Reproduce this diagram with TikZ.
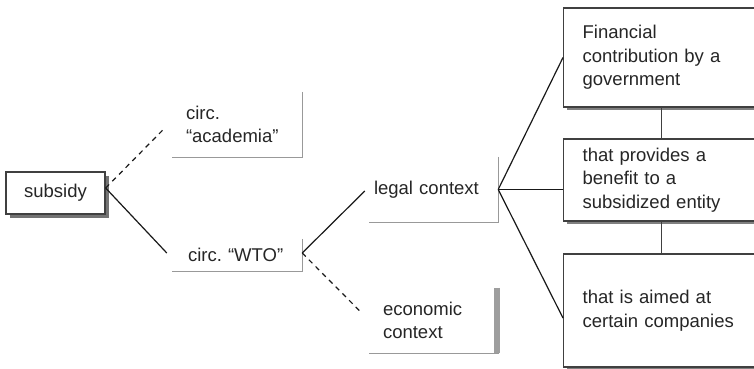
\documentclass[tikz,border=0pt]{standalone}
\usepackage{fontspec}
\setmainfont{Liberation Sans}
\usetikzlibrary{shadows}
\frenchspacing
\begin{document}
\begin{tikzpicture}[x=1pt,y=-1pt,
  every node/.style={font=\fontsize{18.5}{23.5}\selectfont, text=black!85},
  conn/.style={draw=black!90, line width=1.2pt},
  dashconn/.style={conn, dash pattern=on 5pt off 4.5pt},
  bracketline/.style={draw=black!40, line width=1.3pt},
  cond/.style={draw=black!75, line width=1.3pt, fill=white, align=left,
    anchor=west, inner xsep=19pt, inner ysep=0pt, text width=158pt,
    minimum width=196pt,
    drop shadow={shadow xshift=3pt, shadow yshift=-3pt, fill=black!50, opacity=1}},
  term/.style={draw=black!75, line width=1.3pt, fill=white,
    minimum width=99pt, minimum height=42pt, inner sep=0pt,
    drop shadow={shadow xshift=4pt, shadow yshift=-4pt, fill=black!55, opacity=1}},
  circ/.style={align=left, inner ysep=0pt, minimum width=130pt}]

  \clip (0,0) rectangle (754,368);
  \fill[white] (0,0) rectangle (754,368);

  % root term
  \node[term] (subsidy) at (55.5,193) {subsidy};

  % circumstances and contexts, each closed by a right and bottom rule
  \node[circ, inner xsep=14pt, text width=102pt, minimum height=65pt] (acad) at (237,124.5)
    {circ.\\“academia”};
  \node[circ, inner xsep=16pt, text width=98pt, minimum height=32pt] (wto) at (237,255)
    {circ. “WTO”};
  \node[circ, inner xsep=5pt, text width=119pt, minimum height=65pt, minimum width=129pt] (legal) at (433.5,189.5)
    {legal context};
  \node[circ, inner xsep=14pt, text width=103pt, minimum height=65pt, minimum width=131pt] (econ) at (434.5,320.5)
    {economic\\context};

  \draw[bracketline] (acad.north east) -- (acad.south east) -- (acad.south west);
  \draw[bracketline] (wto.north east) -- (wto.south east) -- (wto.south west);
  \draw[bracketline] (legal.north east) -- (legal.south east) -- (legal.south west);
  \draw[bracketline] ([xshift=-1pt]econ.south east) -- (econ.south west);
  \draw[draw=black!38, line width=6pt] ([xshift=-3pt]econ.north east) -- ([xshift=-3pt]econ.south east);

  % the three conditions of the legal definition
  \node[cond, minimum height=99pt] (b1) at (563,57.5)
    {Financial\\contribution by a\\government};
  \node[cond, minimum height=82pt] (b2) at (563,180)
    {that provides a\\benefit to a\\subsidized entity};
  \node[cond, minimum height=113pt] (b3) at (563,310.5)
    {that is aimed at\\certain companies};

  \draw[conn, draw=black!75] (b1.south) -- (b2.north);
  \draw[conn, draw=black!75] (b2.south) -- (b3.north);

  % connectors
  \draw[dashconn] ([yshift=5pt]subsidy.east) -- ([xshift=-7pt,yshift=-3.5pt]acad.west);
  \draw[conn] ([yshift=5pt]subsidy.east) -- ([xshift=-5pt,yshift=2pt]wto.west);
  \draw[conn] ([yshift=2pt]wto.east) -- ([xshift=-4pt,yshift=-1.5pt]legal.west);
  \draw[dashconn] ([yshift=2pt]wto.east) -- ([xshift=-7pt,yshift=7.5pt]econ.west);
  \draw[conn] (legal.east) -- (b1.west);
  \draw[conn] (legal.east) -- (b2.west |- legal.east);
  \draw[conn] (legal.east) -- ([yshift=-7.5pt]b3.west);
\end{tikzpicture}
\end{document}
